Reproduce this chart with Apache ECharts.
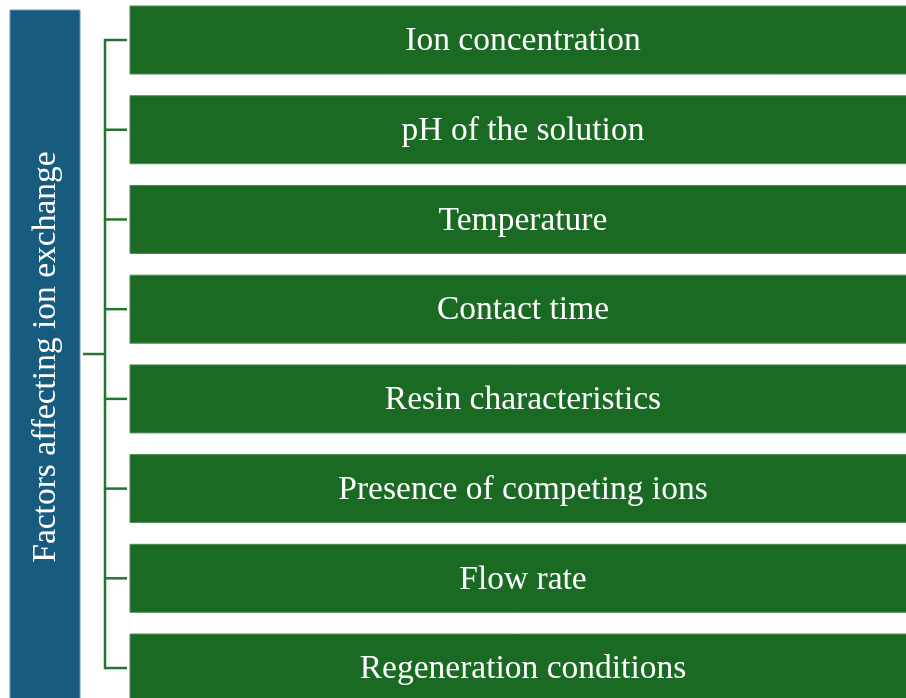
<!DOCTYPE html>
<html>
<head>
<meta charset="utf-8">
<style>
  html, body { margin: 0; padding: 0; background: #ffffff; }
  #chart { width: 906px; height: 698px; }
</style>
<script src="https://cdn.jsdelivr.net/npm/echarts@6/dist/echarts.min.js"></script>
</head>
<body>
<div id="chart"></div>
<script>
// Diagram content
const rootTitle = 'Factors affecting ion exchange';
const factors = [
  'Ion concentration',
  'pH of the solution',
  'Temperature',
  'Contact time',
  'Resin characteristics',
  'Presence of competing ions',
  'Flow rate',
  'Regeneration conditions'
];

const GREEN = '#1B6A24';
const BLUE = '#175C7F';
const LINE = '#237530';
const FONT = "'Liberation Serif', 'Times New Roman', serif";
const FONT_SIZE = 33.5;

const chart = echarts.init(document.getElementById('chart'), null, { renderer: 'canvas' });

const BOX_LEFT = 130;
const SPINE_X = 105;
const ROOT_X = 83;

function renderFactor(params, api) {
  const idx = api.value(0);
  const n = factors.length;
  const c = api.coord([0, idx]);
  const band = api.size([0, 1])[1];
  const boxH = band * 0.758;
  const cy = c[1];
  const children = [
    {
      type: 'rect',
      shape: { x: BOX_LEFT, y: cy - boxH / 2, width: 800, height: boxH },
      style: { fill: GREEN, stroke: '#4f8c55', lineWidth: 1 }
    },
    {
      type: 'text',
      style: {
        text: factors[idx],
        x: 523,
        y: cy + 1.5,
        align: 'center',
        verticalAlign: 'middle',
        fill: '#ffffff',
        font: FONT_SIZE + 'px ' + FONT
      }
    },
    {
      type: 'line',
      shape: { x1: SPINE_X, y1: cy, x2: BOX_LEFT - 3, y2: cy },
      style: { stroke: LINE, lineWidth: 2.5 }
    }
  ];
  if (idx < n - 1) {
    const next = api.coord([0, idx + 1]);
    children.push({
      type: 'line',
      shape: { x1: SPINE_X, y1: cy - (idx === 0 ? 1.2 : 0), x2: SPINE_X, y2: next[1] + 1.2 },
      style: { stroke: LINE, lineWidth: 2.5 }
    });
  }
  return { type: 'group', children };
}

function renderRoot(params, api) {
  const a = api.coord([0, 3]);
  const b = api.coord([0, 4]);
  const midY = (a[1] + b[1]) / 2;
  return {
    type: 'group',
    children: [
      {
        type: 'rect',
        shape: { x: 10, y: 10, width: 70, height: 700 },
        style: { fill: BLUE, stroke: '#6f98b0', lineWidth: 1 }
      },
      {
        type: 'text',
        x: 46,
        y: midY + 3,
        rotation: Math.PI / 2,
        style: {
          text: rootTitle,
          x: 0,
          y: 0,
          align: 'center',
          verticalAlign: 'middle',
          fill: '#ffffff',
          font: FONT_SIZE + 'px ' + FONT
        }
      },
      {
        type: 'line',
        shape: { x1: ROOT_X, y1: midY, x2: SPINE_X, y2: midY },
        style: { stroke: LINE, lineWidth: 2.5 }
      }
    ]
  };
}

chart.setOption({
  animation: false,
  backgroundColor: '#ffffff',
  grid: { left: 0, top: 0, width: 906, height: 698, containLabel: false },
  xAxis: { type: 'value', min: 0, max: 906, show: false },
  yAxis: { type: 'value', min: -0.446, max: 7.334, inverse: true, show: false },
  series: [
    {
      type: 'custom',
      renderItem: renderFactor,
      data: factors.map((f, i) => [i, f]),
      clip: false
    },
    {
      type: 'custom',
      renderItem: renderRoot,
      data: [[0, rootTitle]],
      clip: false
    }
  ]
});
</script>
</body>
</html>
